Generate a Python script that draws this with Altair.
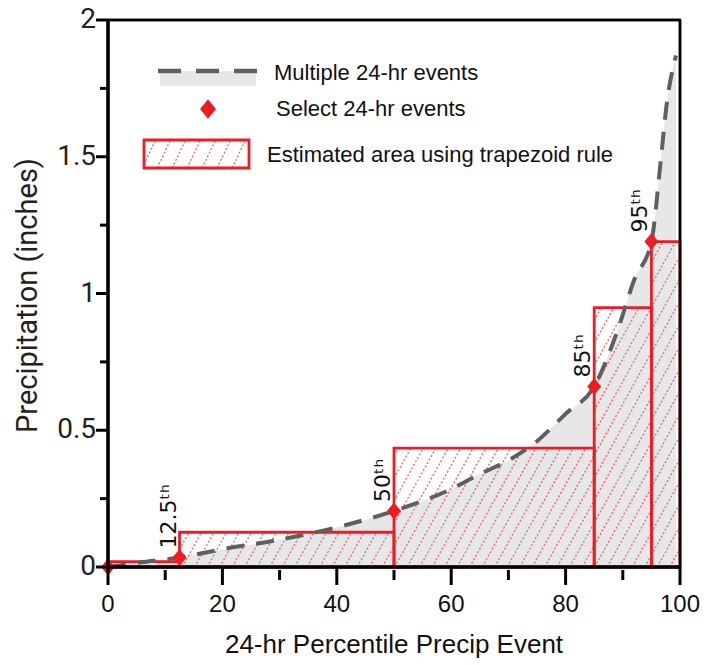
import altair as alt
import numpy as np
import pandas as pd

# ---------------- data ----------------
curve_x = [0, 5, 12.5, 20, 30, 40, 50, 60, 65, 70, 75, 80, 85, 89, 92, 95, 96.7, 97.6, 99.3]
curve_y = [0.0, 0.015, 0.035, 0.065, 0.10, 0.145, 0.205, 0.285, 0.34, 0.39, 0.46, 0.56, 0.66, 0.86, 1.05, 1.19, 1.50, 1.68, 1.87]

pct_x = [0, 12.5, 50, 85, 95]
pct_y = [0.0, 0.035, 0.205, 0.66, 1.19]
pct_label = ["", "12.5ᵗʰ", "50ᵗʰ", "85ᵗʰ", "95ᵗʰ"]

rect_x0 = [0, 12.5, 50, 85, 95]
rect_x1 = [12.5, 50, 85, 95, 100]
rect_h = [0.02, 0.127, 0.435, 0.948, 1.19]

x_major = [0, 20, 40, 60, 80, 100]
x_minor = [10, 30, 50, 70, 90]
y_major = [0, 0.5, 1, 1.5, 2]
y_minor = [0.25, 0.75, 1.25, 1.75]

legend_labels = ["Multiple 24-hr events", "Select 24-hr events", "Estimated area using trapezoid rule"]
x_title = "24-hr Percentile Precip Event"
y_title = "Precipitation (inches)"

# ---------------- style / layout ----------------
LEFT, TOP = 108, 20          # plot-area origin on the page
W, H = 572, 547
PXX = W / 100.0
PXY = H / 2.0
RED = "#ed1c24"
HATCH = "#f04848"
GRAY = "#e6e7e8"
DASH = "#5f5f5f"
SANS = "Liberation Sans, Arial, sans-serif"
ROBOTO = "Roboto, Liberation Sans, sans-serif"
DIAMOND = "M0,-1L0.82,0L0,1L-0.82,0Z"

curve_df = pd.DataFrame({"x": curve_x, "y": curve_y})
pts_df = pd.DataFrame({"x": pct_x, "y": pct_y, "label": pct_label})
rect_df = pd.DataFrame({"x0": rect_x0, "x1": rect_x1, "h": rect_h})
xmaj_df = pd.DataFrame({"x": x_major})
xmin_df = pd.DataFrame({"x": x_minor})
ymaj_df = pd.DataFrame({"y": y_major})
ymin_df = pd.DataFrame({"y": y_minor})
one_df = pd.DataFrame({"k": [0]})


def hatch(boxes, spacing_px, slope_px):
    k = slope_px * PXX / PXY
    step = spacing_px / PXX
    segs = []
    for (x0, x1, y0, y1) in boxes:
        for c in np.arange(-140, 101, step):
            lo = max(y0, k * (x0 - c))
            hi = min(y1, k * (x1 - c))
            if hi > lo:
                segs.append({"x": c + lo / k, "y": lo, "x2": c + hi / k, "y2": hi})
    return pd.DataFrame(segs)


main_hatch = hatch([(a, b, 0.0, h) for a, b, h in zip(rect_x0, rect_x1, rect_h)], 12.5, 1.8)

# legend box (page pixels -> plot pixels) and its hatch in data space
LBX0, LBX1, LBY0, LBY1 = 144 - LEFT, 249 - LEFT, 140 - TOP, 168 - TOP
leg_hatch = hatch([(LBX0 / PXX, LBX1 / PXX, 2 - LBY1 / PXY, 2 - LBY0 / PXY)], 15, 2.1)
hatch_df = pd.concat([main_hatch, leg_hatch], ignore_index=True)

xs = alt.Scale(domain=[0, 100], nice=False, zero=False)
ys = alt.Scale(domain=[0, 2], nice=False, zero=False)


def X(f):
    return alt.X(f, type="quantitative", scale=xs, axis=None)


def Y(f):
    return alt.Y(f, type="quantitative", scale=ys, axis=None)


area = alt.Chart(curve_df).mark_area(color=GRAY, interpolate="monotone").encode(x=X("x"), y=Y("y"))

hatch_layer = alt.Chart(hatch_df).mark_rule(
    color=HATCH, strokeDash=[2, 2], strokeWidth=1.3, opacity=0.85
).encode(x=X("x"), y=Y("y"), x2="x2:Q", y2="y2:Q")

rects = alt.Chart(rect_df).mark_rect(
    fill="transparent", stroke=RED, strokeWidth=2.8
).encode(x=X("x0"), x2="x1:Q", y=Y("h"), y2=alt.datum(0))

line = alt.Chart(curve_df).mark_line(
    color=DASH, strokeWidth=4, strokeDash=[18, 12], interpolate="monotone"
).encode(x=X("x"), y=Y("y"))

points = alt.Chart(pts_df).mark_point(
    shape=DIAMOND, filled=True, size=290, color=RED, opacity=1
).encode(x=X("x"), y=Y("y"))

labels = alt.Chart(pts_df).transform_filter("datum.label != ''").mark_text(
    angle=270, align="left", baseline="alphabetic", dx=9, dy=-4,
    font="DejaVu Sans", fontSize=22, fontWeight="normal", color="#111"
).encode(x=X("x"), y=Y("y"), text="label:N")

# ---------------- axes drawn as marks (ticks, labels, titles, frame) ----------------
tick_style = dict(color="#000000", strokeWidth=3, opacity=1, clip=False)
xt_major = alt.Chart(xmaj_df).mark_rule(**tick_style).encode(x=X("x"), y=alt.value(H), y2=alt.value(H + 18))
xt_minor = alt.Chart(xmin_df).mark_rule(**tick_style).encode(x=X("x"), y=alt.value(H + 3), y2=alt.value(H + 13))
yt_major = alt.Chart(ymaj_df).mark_rule(**tick_style).encode(y=Y("y"), x=alt.value(0), x2=alt.value(-12))
yt_minor = alt.Chart(ymin_df).mark_rule(**tick_style).encode(y=Y("y"), x=alt.value(0), x2=alt.value(-8))

xt_labels = alt.Chart(xmaj_df).mark_text(
    font=SANS, fontSize=24, fontWeight="normal", color="#111", align="center", baseline="middle"
).encode(x=X("x"), y=alt.value(H + 38), text=alt.Text("x:Q", format="d"))
yt_labels = alt.Chart(ymaj_df).mark_text(
    font=ROBOTO, fontSize=28, fontWeight="normal", color="#222", align="right", baseline="middle"
).encode(y=Y("y"), x=alt.value(-12), text=alt.Text("y:Q", format="~g"))

x_title_mark = alt.Chart(one_df).mark_text(
    font=SANS, fontSize=26, fontWeight="normal", color="#111", align="center", baseline="middle"
).encode(x=alt.value(W / 2), y=alt.value(H + 78), text=alt.value(x_title))
y_title_mark = alt.Chart(one_df).mark_text(
    font=ROBOTO, fontSize=29, fontWeight="normal", color="#222", align="center", baseline="middle", angle=270
).encode(x=alt.value(-80), y=alt.value(H / 2 + 2), text=alt.value(y_title))

frame_style = dict(color="#000000", opacity=1, clip=False)
frame_left = alt.Chart(one_df).mark_rule(strokeWidth=3.5, **frame_style).encode(
    x=alt.value(0), y=alt.value(-1), y2=alt.value(H + 1))
frame_bottom = alt.Chart(one_df).mark_rule(strokeWidth=3.5, **frame_style).encode(
    y=alt.value(H), x=alt.value(-1), x2=alt.value(W + 1))
frame_top = alt.Chart(one_df).mark_rule(strokeWidth=2.5, **frame_style).encode(
    y=alt.value(0), x=alt.value(0), x2=alt.value(W))
frame_right = alt.Chart(one_df).mark_rule(strokeWidth=2.5, **frame_style).encode(
    x=alt.value(W), y=alt.value(0), y2=alt.value(H))

# ---------------- manual legend (page pixels -> plot pixels) ----------------
leg_band = alt.Chart(one_df).mark_rect(color=GRAY).encode(
    x=alt.value(160 - LEFT), x2=alt.value(256 - LEFT), y=alt.value(71 - TOP), y2=alt.value(86 - TOP)
)
leg_line = alt.Chart(one_df).mark_rule(color=DASH, strokeWidth=4.5, strokeDash=[23, 15]).encode(
    x=alt.value(158 - LEFT), x2=alt.value(258 - LEFT), y=alt.value(71 - TOP)
)
leg_pt = alt.Chart(one_df).mark_point(shape=DIAMOND, filled=True, size=380, color=RED, opacity=1).encode(
    x=alt.value(208 - LEFT), y=alt.value(109 - TOP)
)
leg_rect = alt.Chart(one_df).mark_rect(fill="transparent", stroke=RED, strokeWidth=2.8).encode(
    x=alt.value(LBX0), x2=alt.value(LBX1), y=alt.value(LBY0), y2=alt.value(LBY1)
)
leg_text = [
    alt.Chart(one_df).mark_text(align="left", baseline="middle", font=SANS, fontSize=22,
                                fontWeight="normal", color="#111").encode(
        x=alt.value(px - LEFT), y=alt.value(py - TOP), text=alt.value(t)
    )
    for t, px, py in zip(legend_labels, [274, 276, 267], [73, 109, 155])
]

chart = alt.layer(
    area, hatch_layer, rects, line, points, labels,
    xt_major, xt_minor, yt_major, yt_minor, xt_labels, yt_labels,
    x_title_mark, y_title_mark,
    frame_top, frame_right, frame_left, frame_bottom,
    leg_band, leg_line, leg_pt, leg_rect, *leg_text
).properties(
    width=W, height=H,
    padding={"left": LEFT - 8, "top": TOP - 8, "right": 693 - (LEFT - 8) - W,
             "bottom": 657 - (TOP - 8) - H},
    autosize=alt.AutoSizeParams(type="none"),
).configure_view(stroke="black", strokeWidth=2.5)

chart.save("out.html", embed_options={"renderer": "svg", "actions": False})
